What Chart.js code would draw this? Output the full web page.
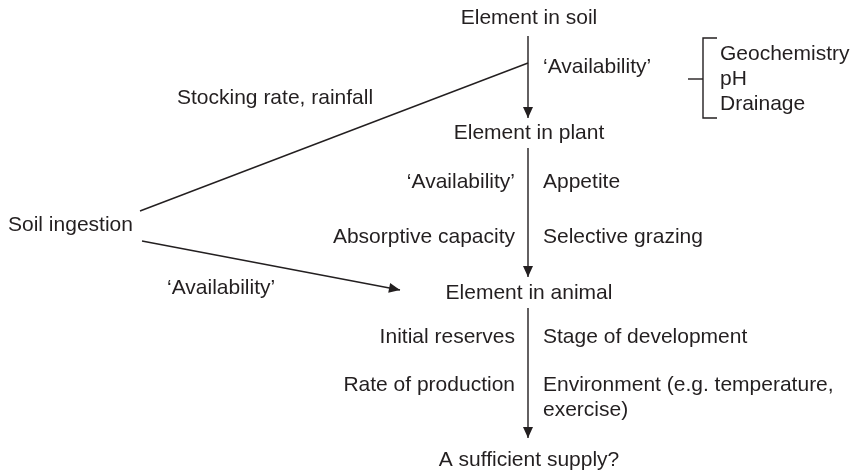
<!DOCTYPE html>
<html>
<head>
<meta charset="utf-8">
<script src="https://cdn.jsdelivr.net/npm/chart.js@4"></script>
<style>
  html, body { margin: 0; padding: 0; background: #fff; }
  canvas { display: block; }
</style>
</head>
<body>
<canvas id="flow" width="854" height="472"></canvas>
<script>
// Diagram data (x/y in diagram units, y grows downward)
const nodeLabels = ['Element in soil', 'Element in plant', 'Element in animal', 'A sufficient supply?'];
const nodeY = [18, 133, 293, 460];
const spineX = 528;

const leftLabels = ['\u2018Availability\u2019', 'Absorptive capacity', 'Initial reserves', 'Rate of production'];
const leftY = [182, 237, 337, 385];
const rightLabels = ['Appetite', 'Selective grazing', 'Stage of development', 'Environment (e.g. temperature,', 'exercise)'];
const rightY = [182, 237, 337, 385, 410];

const soilFactors = ['Geochemistry', 'pH', 'Drainage'];
const soilFactorY = [54, 79, 104];

// arrows between stages: [yStart, yEnd]
const spineStarts = [36, 148, 308];
const spineEnds = [118, 277, 438];

// side branch from soil ingestion
const upperBranchX = [140, 528];
const upperBranchY = [211, 63];
const lowerBranchX = [142, 400];
const lowerBranchY = [241, 290];

// bracket around soil factors
const bracketX = [717, 703, 703, 717];
const bracketY = [38, 38, 118, 118];
const bracketTickX = [688, 703];
const bracketTickY = [79, 79];

const freeLabels = [
  { text: 'Soil ingestion', x: 8, y: 225, align: 'left' },
  { text: 'Stocking rate, rainfall', x: 177, y: 98, align: 'left' },
  { text: '\u2018Availability\u2019', x: 167, y: 288, align: 'left' },
  { text: '\u2018Availability\u2019', x: 543, y: 67, align: 'left' }
];

const INK = '#231f20';
const FONT = '21px "Liberation Sans", Arial, sans-serif';

function pts(xs, ys) {
  return xs.map((x, i) => ({ x: x, y: ys[i] }));
}

function seg(data, arrow) {
  return {
    data: data,
    showLine: true,
    borderColor: INK,
    borderWidth: 1.4,
    pointRadius: 0,
    fill: false,
    tension: 0,
    arrow: !!arrow
  };
}

const datasets = [];
spineStarts.forEach((s, i) => {
  datasets.push(seg([{ x: spineX, y: s }, { x: spineX, y: spineEnds[i] }], true));
});
datasets.push(seg(pts(upperBranchX, upperBranchY), false));
datasets.push(seg(pts(lowerBranchX, lowerBranchY), true));
datasets.push(seg(pts(bracketX, bracketY), false));
datasets.push(seg(pts(bracketTickX, bracketTickY), false));

// arrowheads at the last point of flagged datasets
const arrowPlugin = {
  id: 'arrowheads',
  afterDatasetsDraw(chart) {
    const ctx = chart.ctx;
    chart.data.datasets.forEach((ds, i) => {
      if (!ds.arrow) return;
      const el = chart.getDatasetMeta(i).data;
      const a = el[el.length - 2], b = el[el.length - 1];
      const ang = Math.atan2(b.y - a.y, b.x - a.x);
      const len = 11, half = 5;
      ctx.save();
      ctx.translate(b.x, b.y);
      ctx.rotate(ang);
      ctx.beginPath();
      ctx.moveTo(0, 0);
      ctx.lineTo(-len, -half);
      ctx.lineTo(-len, half);
      ctx.closePath();
      ctx.fillStyle = INK;
      ctx.fill();
      ctx.restore();
    });
  }
};

// all text placed through the scales
const labelPlugin = {
  id: 'labels',
  afterDatasetsDraw(chart) {
    const ctx = chart.ctx;
    const sx = chart.scales.x, sy = chart.scales.y;
    const put = (text, x, y, align) => {
      ctx.textAlign = align;
      ctx.fillText(text, sx.getPixelForValue(x), sy.getPixelForValue(y));
    };
    ctx.save();
    ctx.font = FONT;
    ctx.fillStyle = INK;
    ctx.textBaseline = 'middle';
    nodeLabels.forEach((t, i) => put(t, spineX + 1, nodeY[i], 'center'));
    leftLabels.forEach((t, i) => put(t, spineX - 13, leftY[i], 'right'));
    rightLabels.forEach((t, i) => put(t, spineX + 15, rightY[i], 'left'));
    soilFactors.forEach((t, i) => put(t, 720, soilFactorY[i], 'left'));
    freeLabels.forEach(l => put(l.text, l.x, l.y, l.align));
    ctx.restore();
  }
};

new Chart(document.getElementById('flow'), {
  type: 'scatter',
  data: { datasets: datasets },
  options: {
    responsive: false,
    devicePixelRatio: 1,
    animation: false,
    layout: { padding: 0 },
    plugins: { legend: { display: false }, tooltip: { enabled: false } },
    scales: {
      x: { type: 'linear', min: 0, max: 854, display: false },
      y: { type: 'linear', min: 0, max: 472, reverse: true, display: false }
    }
  },
  plugins: [arrowPlugin, labelPlugin]
});
</script>
</body>
</html>
